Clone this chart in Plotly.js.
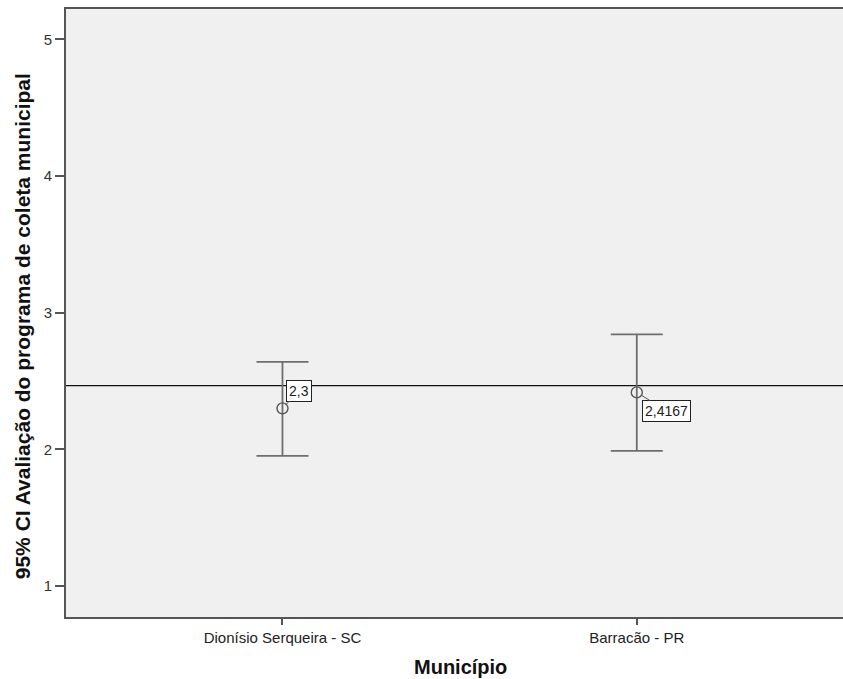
<!DOCTYPE html>
<html>
<head>
<meta charset="utf-8">
<script src="https://cdn.plot.ly/plotly-3.0.1.min.js"></script>
<style>html,body{margin:0;padding:0;background:#fff;}#chart{width:843px;height:679px;}</style>
</head>
<body>
<div id="chart"></div>
<script>
const categories = ["Dionísio Serqueira - SC", "Barracão - PR"];
const means = [2.3, 2.4167];
const upper = [2.64, 2.841];
const lower = [1.953, 1.989];
const meanLabels = ["2,3", "2,4167"];
const refLine = 2.466;
const yTicks = [1, 2, 3, 4, 5];
const xTitle = "Município";
const yTitle = "95% CI Avaliação do programa de coleta municipal";

const xpos = categories.map((c, i) => i);
const FONT = "Arial, 'Liberation Sans', sans-serif";

const trace = {
  x: xpos,
  y: means,
  type: "scatter",
  mode: "markers",
  marker: {symbol: "circle-open", size: 11, color: "#555", line: {width: 1.4, color: "#555"}},
  error_y: {
    type: "data", symmetric: false,
    array: upper.map((u, i) => u - means[i]),
    arrayminus: lower.map((l, i) => means[i] - l),
    color: "#6e6e6e", thickness: 1.8, width: 26
  },
  hoverinfo: "none",
  showlegend: false
};

const offsets = [[16.5, -17.7], [30, 18.5]];
const annotations = means.map((m, i) => ({
  x: xpos[i], y: m, xref: "x", yref: "y",
  text: meanLabels[i],
  showarrow: true, arrowhead: 0, arrowwidth: 1, arrowcolor: "#555", standoff: 5,
  ax: offsets[i][0], ay: offsets[i][1],
  bgcolor: "#fff", bordercolor: "#222", borderwidth: 1, borderpad: 2,
  font: {family: FONT, size: 14, color: "#222"}
}));

annotations.push({
  xref: "paper", yref: "paper", x: (460 - 66) / 777, y: 0, yshift: -50,
  xanchor: "center", yanchor: "middle", showarrow: false,
  text: xTitle, font: {family: FONT, size: 20, color: "#111", weight: "bold"}
});
annotations.push({
  xref: "paper", yref: "paper", x: 0, xshift: -44, y: (617 - 326) / 608.5,
  xanchor: "center", yanchor: "middle", showarrow: false, textangle: -90,
  text: yTitle, font: {family: FONT, size: 21, color: "#111", weight: "bold"}
});

const layout = {
  width: 843, height: 679,
  margin: {l: 66, r: 0, t: 8.5, b: 62},
  paper_bgcolor: "#fff",
  plot_bgcolor: "#f0f0f0",
  font: {family: FONT, size: 15, color: "#333"},
  xaxis: {
    range: [-0.611, 1.582],
    tickmode: "array", tickvals: xpos, ticktext: categories,
    ticks: "outside", ticklen: 6, tickwidth: 2, tickcolor: "#555",
    showline: true, linecolor: "#555", linewidth: 2, mirror: true,
    showgrid: false, zeroline: false,
    tickfont: {family: FONT, size: 15, color: "#222"}
  },
  yaxis: {
    range: [0.773, 5.223],
    tickmode: "array", tickvals: yTicks, ticktext: yTicks.map(String),
    ticks: "outside", ticklen: 9, tickwidth: 2, tickcolor: "#555",
    showline: true, linecolor: "#555", linewidth: 2,
    showgrid: false, zeroline: false,
    tickfont: {family: FONT, size: 15, color: "#333"}
  },
  shapes: [{
    type: "line", xref: "paper", yref: "y", x0: 0, x1: 1, y0: refLine, y1: refLine,
    line: {color: "#111", width: 1.2}, layer: "below"
  }],
  annotations: annotations
};

Plotly.newPlot("chart", [trace], layout, {displayModeBar: false, staticPlot: true});
</script>
</body>
</html>
